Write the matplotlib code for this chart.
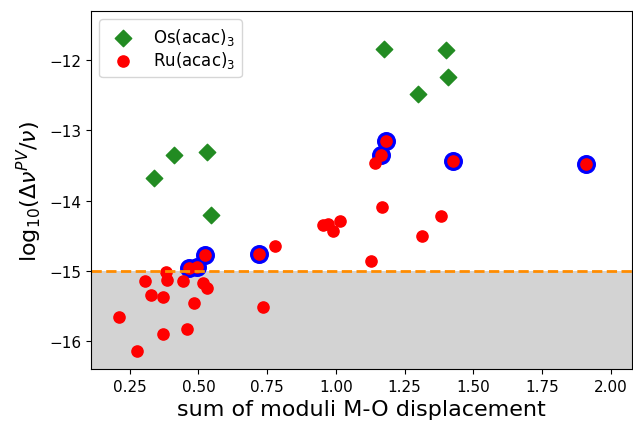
import matplotlib
matplotlib.use("Agg")
import matplotlib.pyplot as plt

# Os(acac)3 data
os_x = [0.3395, 0.412, 0.530, 0.5447, 1.176, 1.3995, 1.407, 1.300]
os_y = [-13.68, -13.352, -13.314, -14.21, -11.84, -11.858, -12.247, -12.484]

# Ru(acac)3 data
ru_x = [1.181, 1.164, 1.1435, 1.425, 1.911, 1.169, 1.381, 1.312, 1.015, 0.9907,
        0.952, 0.9725, 1.128, 0.7786, 0.524, 0.719, 0.466, 0.494, 0.383, 0.307,
        0.3857, 0.443, 0.518, 0.530, 0.3275, 0.372, 0.484, 0.736, 0.210, 0.457,
        0.372, 0.2777]
ru_y = [-13.157, -13.348, -13.466, -13.433, -13.48, -14.097, -14.216, -14.50, -14.287, -14.43,
        -14.349, -14.335, -14.857, -14.643, -14.776, -14.76, -14.955, -14.94, -15.022, -15.15,
        -15.13, -15.146, -15.17, -15.24, -15.35, -15.374, -15.464, -15.51, -15.654, -15.829,
        -15.905, -16.142]

# highlighted Ru points (blue rings)
hl_x = [1.181, 1.164, 1.425, 1.911, 0.524, 0.719, 0.466, 0.494]
hl_y = [-13.157, -13.348, -13.433, -13.48, -14.776, -14.76, -14.955, -14.94]

threshold = -15.0

fig = plt.figure(figsize=(6.33, 4.27), dpi=100)
ax = fig.add_axes([91/633, 1-370/427, 541/633, 358/427])

ax.set_xlim(0.109, 2.077)
ax.set_ylim(-16.40, -11.30)

ax.axhspan(-16.40, threshold, color='lightgrey', zorder=0, lw=0)

ax.scatter(os_x, os_y, marker='D', s=70, color='forestgreen', label='Os(acac)$_3$', zorder=1)
ax.scatter(hl_x, hl_y, marker='o', s=160, color='blue', zorder=1)
ax.scatter(ru_x, ru_y, marker='o', s=65, color='red', label='Ru(acac)$_3$', zorder=1)

ax.axhline(threshold, color='darkorange', ls='--', lw=2, zorder=2)

ax.set_yticks([-12, -13, -14, -15, -16])
ax.set_xticks([0.25, 0.5, 0.75, 1.0, 1.25, 1.5, 1.75, 2.0])
ax.tick_params(labelsize=11)

ax.set_xlabel('sum of moduli M-O displacement', fontsize=16)
ax.set_ylabel(r'$\mathrm{log}_{10}(\Delta\nu^{PV}/\nu)$', fontsize=16)

ax.legend(loc='upper left', fontsize=12, labelspacing=0.15, borderaxespad=0.5)

fig.savefig('out.png', dpi=100)
